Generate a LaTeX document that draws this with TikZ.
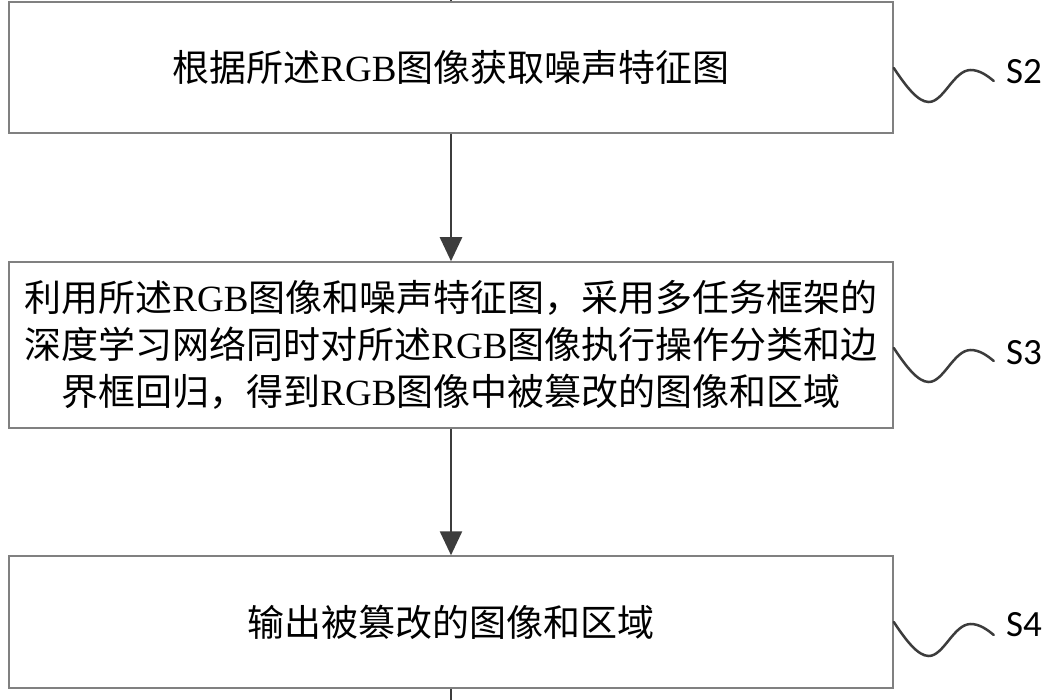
\documentclass[tikz,border=0pt]{standalone}
\usepackage{fontspec}
\usetikzlibrary{arrows.meta,calc}
\newfontfamily\cjk{Noto Sans CJK SC}
\newfontfamily\latserif{Liberation Serif}
\newfontfamily\labfont{Carlito}
\newcommand{\rgbtxt}{{\latserif RGB}}
\definecolor{boxgray}{HTML}{808080}
\definecolor{arrgray}{HTML}{3C3C3C}
\tikzset{
  stepbox/.style={draw=boxgray, line width=1.5pt, fill=white, minimum width=884pt,
    inner sep=0pt, align=center, font=\cjk\fontsize{37}{47}\selectfont, text=black},
  flow/.style={draw=arrgray, line width=2.5pt, -{Triangle[width=22pt,length=24pt]}},
  plainline/.style={draw=arrgray, line width=2.5pt},
  wave/.style={draw=arrgray, line width=2.5pt, line cap=round},
  steplabel/.style={anchor=west, inner sep=0pt, font=\labfont\fontsize{37}{37}\selectfont, text=black}
}
\begin{document}
\begin{tikzpicture}[x=1pt,y=-1pt]
\useasboundingbox[fill=white] (0,0) rectangle (1050,700);
\node[stepbox, minimum height=131pt] (b1) at (451,67.5) {根据所述\rgbtxt 图像获取噪声特征图};
\node[stepbox, minimum height=166pt] (b2) at (451,345) {利用所述\rgbtxt 图像和噪声特征图，采用多任务框架的\\深度学习网络同时对所述\rgbtxt 图像执行操作分类和边\\界框回归，得到\rgbtxt 图像中被篡改的图像和区域};
\node[stepbox, minimum height=132pt] (b3) at (451,622) {输出被篡改的图像和区域};
\coordinate (top) at (451,0);
\coordinate (bot) at (451,700);
\draw[plainline] (top) -- (b1.north);
\draw[flow] (b1.south) -- (b2.north);
\draw[flow] (b2.south) -- (b3.north);
\draw[plainline] (b3.south) -- (bot);
\node[steplabel] (s2) at (1006,72) {S2};
\node[steplabel] (s3) at (1006,353) {S3};
\node[steplabel] (s4) at (1006,625) {S4};
\foreach \b/\dy in {b1/0.5, b2/3, b3/0}{
  \begin{scope}[shift={($(\b.east)+(0,\dy)$)}]
    \draw[wave] (0,0) .. controls (12,18) and (24,34) .. (35,34) .. controls (50,34) and (60,2) .. (77,2) .. controls (86,2) and (94,8) .. (100,13);
  \end{scope}
}
\end{tikzpicture}
\end{document}
